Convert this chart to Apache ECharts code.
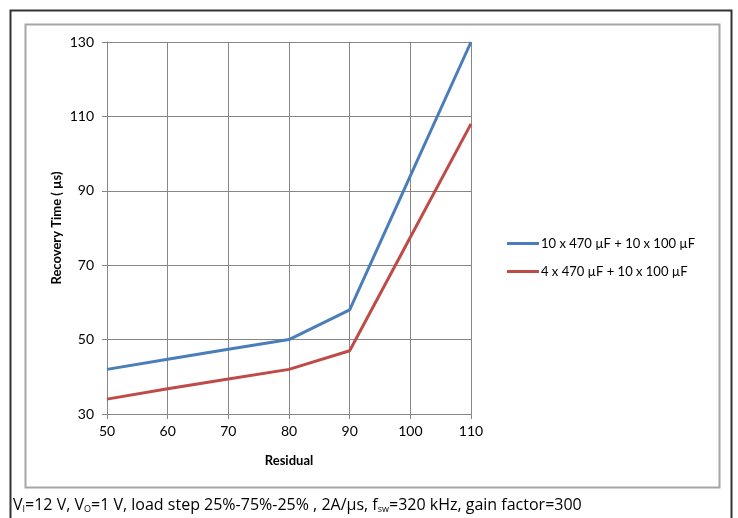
<!DOCTYPE html>
<html><head><meta charset="utf-8">
<script src="https://cdn.jsdelivr.net/npm/echarts@6/dist/echarts.min.js"></script>
<style>html,body{margin:0;padding:0;background:#fff;}#c{width:738px;height:518px;}</style>
</head><body><div id="c"></div>
<script>
const categories = [50, 60, 70, 80, 90, 100, 110];
const seriesNames = ['10 x 470 µF + 10 x 100 µF', '4 x 470 µF + 10 x 100 µF'];
const blueValues = [42, 44.7, 47.4, 50, 58, 94, 130];
const redValues = [34, 36.8, 39.4, 42, 47, 77.5, 108];
const yTicks = [30, 50, 70, 90, 110, 130];
const xTicks = [50, 60, 70, 80, 90, 100, 110];

const chart = echarts.init(document.getElementById('c'));
const font = 'Lato, "Open Sans", sans-serif';
const gridColor = '#868686';
chart.setOption({
  animation: false,
  backgroundColor: '#fff',
  grid: { left: 107, right: 267, top: 42, bottom: 104 },
  legend: {
    orient: 'vertical', left: 502, top: 232, itemWidth: 32, itemHeight: 3, itemGap: 15,
    icon: 'rect',
    textStyle: { fontFamily: font, fontSize: 13, color: '#000', padding: [0,0,0,-3] },
    data: seriesNames
  },
  xAxis: {
    type: 'value', min: xTicks[0], max: xTicks[xTicks.length-1], interval: 10,
    name: 'Residual', nameLocation: 'middle', nameGap: 40,
    nameTextStyle: { fontFamily: font, fontSize: 13, fontWeight: 'bold', color: '#000' },
    axisLine: { show: true, lineStyle: { color: gridColor, width: 1 } },
    axisTick: { show: true, length: 5, inside: false, lineStyle: { color: gridColor } },
    axisLabel: { fontFamily: font, fontSize: 14, color: '#000', margin: 10 },
    splitLine: { show: true, lineStyle: { color: gridColor, width: 1 } }
  },
  yAxis: {
    type: 'value', min: yTicks[0], max: yTicks[yTicks.length-1], interval: 20,
    name: 'Recovery Time ( µs)', nameLocation: 'middle', nameGap: 44, nameRotate: 90,
    nameTextStyle: { fontFamily: font, fontSize: 13, fontWeight: 'bold', color: '#000' },
    axisLine: { show: true, lineStyle: { color: gridColor, width: 1 } },
    axisTick: { show: true, length: 5, lineStyle: { color: gridColor } },
    axisLabel: { fontFamily: font, fontSize: 14, color: '#000', margin: 13 },
    splitLine: { show: true, lineStyle: { color: gridColor, width: 1 } }
  },
  series: [
    { name: seriesNames[0], type: 'line', data: categories.map((c,i)=>[c, blueValues[i]]),
      showSymbol: false, symbol: 'none', lineStyle: { color: '#4a7ebb', width: 3 }, itemStyle: { color: '#4a7ebb' } },
    { name: seriesNames[1], type: 'line', data: categories.map((c,i)=>[c, redValues[i]]),
      showSymbol: false, symbol: 'none', lineStyle: { color: '#be4b48', width: 3 }, itemStyle: { color: '#be4b48' } }
  ],
  graphic: [
    { type: 'polyline', shape: { points: [[10.5,518],[10.5,10.5],[731.5,10.5],[731.5,518]] },
      style: { stroke: '#333', lineWidth: 2, fill: null }, silent: true },
    { type: 'rect', shape: { x: 25.5, y: 24.5, width: 694, height: 463 },
      style: { stroke: '#a6a6a6', lineWidth: 2, fill: null }, silent: true },
    { type: 'text', left: 13, top: 497, silent: true,
      style: {
        text: 'V{s|I}=12 V, V{s|O}=1 V, load step 25%-75%-25% , 2A/µs, f{s|sw}=320 kHz, gain factor=300',
        fontFamily: '"Open Sans", sans-serif', fontSize: 16, fill: '#000',
        rich: { s: { fontSize: 9, verticalAlign: 'bottom', padding: [8,0,0,0], fontFamily: '"Open Sans", sans-serif' } }
      } }
  ]
});
</script></body></html>
